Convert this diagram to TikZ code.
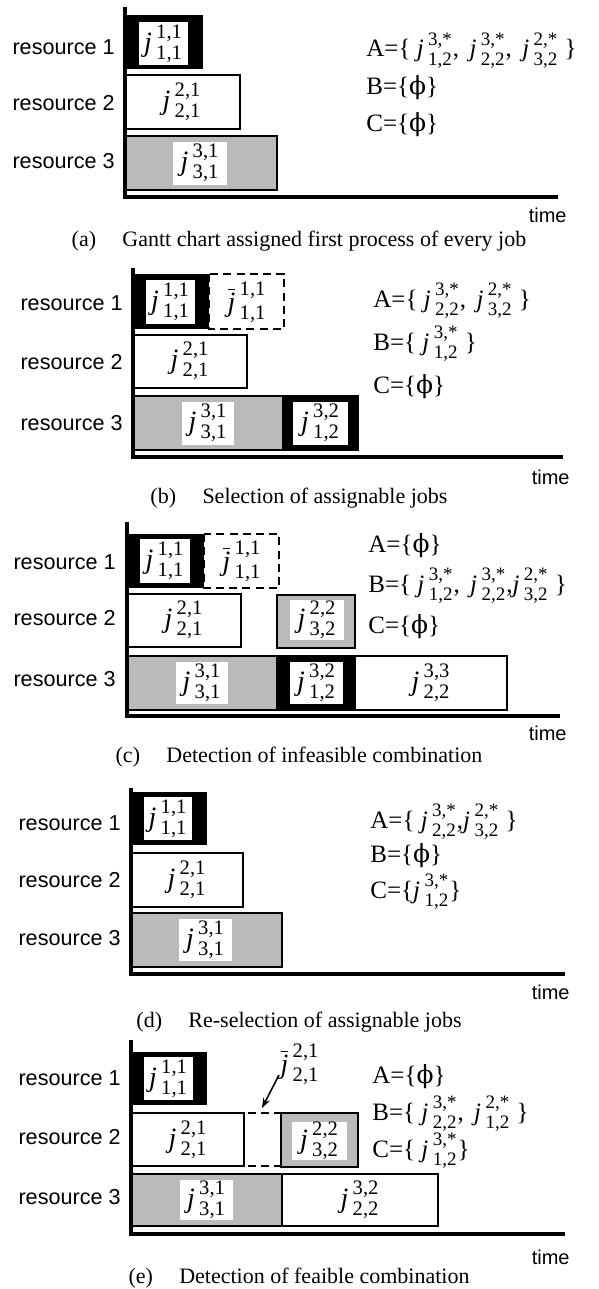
\documentclass[tikz,border=0pt]{standalone}
\usepackage{amsmath}
\usepackage{fontspec}
\setmainfont{Liberation Serif}
\newfontfamily\arialf{Liberation Sans}
\newfontfamily\dvs{DejaVu Serif}
\usetikzlibrary{arrows.meta}
\DeclareMathSizes{12.5}{12.5}{9.5}{7}
\DeclareMathSizes{14}{14}{10.3}{7}
\newcommand{\J}[2]{\ensuremath{\text{\itshape j}^{\kern2.2pt\text{#1}}_{\kern2.2pt\text{#2}}}}
\newcommand{\JB}[2]{\ensuremath{\overline{\text{\itshape j}}^{\kern2.2pt\text{#1}}_{\kern2.2pt\text{#2}}}}
\newcommand{\ph}{{\dvs ϕ}}
\tikzset{
 res/.style={font=\arialf\fontsize{10.8}{12}\selectfont, anchor=east, inner sep=0pt},
 tm/.style={font=\arialf\fontsize{10}{12}\selectfont, anchor=east, inner sep=0pt},
 captxt/.style={font=\fontsize{11}{13}\selectfont, inner sep=0pt},
 setlbl/.style={font=\fontsize{12.5}{14}\selectfont, anchor=base west, inner sep=0pt},
 jl/.style={font=\fontsize{14}{16}\selectfont, inner sep=0pt},
 axl/.style={line width=1.6pt},
 wbar/.style={draw=black, fill=white, line width=1.3pt},
 gbar/.style={draw=black, fill=black!27, line width=1.3pt},
 bbar/.style={fill=black},
 inw/.style={fill=white},
 dbox/.style={draw=black, dash pattern=on 4pt off 2.6pt, line width=1.3pt},
 arr/.style={-{Stealth[length=5pt,width=3.6pt]}, line width=0.8pt}
}
\begin{document}
\begin{tikzpicture}[x=0.5pt,y=-0.5pt]
\fill[white] (0,0) rectangle (599,1289);
\useasboundingbox (0,0) rectangle (599,1289);

% ---------------- (a)
\fill[bbar] (125,15) rectangle (203,69);
\fill[inw] (139,22) rectangle (188,65);
\node[jl] (aj1) at (163.5,43.5) {\J{1,1}{1,1}};
\draw[wbar] (125,75) rectangle (240,129);
\node[jl] (aj2) at (182,102) {\J{2,1}{2,1}};
\draw[gbar] (125,136) rectangle (277,190);
\fill[inw] (173,142) rectangle (227,185);
\node[jl] (aj3) at (200,163) {\J{3,1}{3,1}};
\draw[axl] (125,7) -- (125,197) -- (558,197);
\node[res] (ar1) at (115,47) {resource 1};
\node[res] (ar2) at (115,103) {resource 2};
\node[res] (ar3) at (115,161) {resource 3};
\node[setlbl] (aA) at (366,57) {A=\{ \J{3,*}{1,2},\, \J{3,*}{2,2},\, \J{2,*}{3,2} \}};
\node[setlbl] (aB) at (366,95) {B=\{\ph\}};
\node[setlbl] (aC) at (366,132) {C=\{\ph\}};
\node[tm] (atime) at (567,215) {time};
\node[captxt] (acap) at (299,241) {(a)\hspace{1.2em}Gantt chart assigned first process of every job};

% ---------------- (b)
\fill[bbar] (133,274) rectangle (209,329);
\fill[inw] (146,280) rectangle (195,324);
\node[jl] (bj1) at (170.5,302) {\J{1,1}{1,1}};
\draw[dbox] (209,274) rectangle (284,329);
\node[jl] (bjb) at (247,302) {\JB{1,1}{1,1}};
\draw[wbar] (133,335) rectangle (247,388);
\node[jl] (bj2) at (190,361) {\J{2,1}{2,1}};
\draw[gbar] (133,396) rectangle (283,450);
\fill[inw] (182,402) rectangle (234,445);
\node[jl] (bj3) at (208,423) {\J{3,1}{3,1}};
\fill[bbar] (283,395) rectangle (359,451);
\fill[inw] (293,402) rectangle (348,445);
\node[jl] (bj4) at (320.5,423) {\J{3,2}{1,2}};
\draw[axl] (133,268) -- (133,457) -- (563,457);
\node[res] (br1) at (123,303) {resource 1};
\node[res] (br2) at (123,362) {resource 2};
\node[res] (br3) at (123,423) {resource 3};
\node[setlbl] (bA) at (373,307) {A=\{ \J{3,*}{2,2},\, \J{2,*}{3,2} \}};
\node[setlbl] (bB) at (373,350) {B=\{ \J{3,*}{1,2} \}};
\node[setlbl] (bC) at (373,393) {C=\{\ph\}};
\node[tm] (btime) at (570,477) {time};
\node[captxt] (bcap) at (299,498) {(b)\hspace{1.2em}Selection of assignable jobs};

% ---------------- (c)
\fill[bbar] (127,534) rectangle (204,588);
\fill[inw] (140,539) rectangle (190,583);
\node[jl] (cj1) at (165,561) {\J{1,1}{1,1}};
\draw[dbox] (204,534) rectangle (279,588);
\node[jl] (cjb) at (242,561) {\JB{1,1}{1,1}};
\draw[wbar] (128,594) rectangle (241,647);
\node[jl] (cj2) at (184,620) {\J{2,1}{2,1}};
\draw[gbar] (277,595) rectangle (355,648);
\fill[inw] (290,600) rectangle (344,640);
\node[jl] (cj5) at (317,620) {\J{2,2}{3,2}};
\draw[gbar] (128,656) rectangle (277,710);
\fill[inw] (176,662) rectangle (228,704);
\node[jl] (cj3) at (202,683) {\J{3,1}{3,1}};
\fill[bbar] (277,655) rectangle (355,711);
\fill[inw] (290,662) rectangle (343,704);
\node[jl] (cj4) at (316.5,683) {\J{3,2}{1,2}};
\draw[wbar] (355,656) rectangle (507,710);
\node[jl] (cj6) at (431,683) {\J{3,3}{2,2}};
\draw[axl] (127,522) -- (127,716) -- (560,716);
\node[res] (cr1) at (116,562) {resource 1};
\node[res] (cr2) at (116,618) {resource 2};
\node[res] (cr3) at (116,679) {resource 3};
\node[setlbl] (cA) at (368,552) {A=\{\ph\}};
\node[setlbl] (cB) at (368,592) {B=\{ \J{3,*}{1,2},\, \J{3,*}{2,2},\J{2,*}{3,2} \}};
\node[setlbl] (cC) at (368,633) {C=\{\ph\}};
\node[tm] (ctime) at (567,733) {time};
\node[captxt] (ccap) at (299,757) {(c)\hspace{1.2em}Detection of infeasible combination};

% ---------------- (d)
\fill[bbar] (131,792) rectangle (207,845);
\fill[inw] (144,797) rectangle (192,840);
\node[jl] (dj1) at (168,818.5) {\J{1,1}{1,1}};
\draw[wbar] (131,853) rectangle (243,907);
\node[jl] (dj2) at (187,880) {\J{2,1}{2,1}};
\draw[gbar] (131,913) rectangle (282,967);
\fill[inw] (179,919) rectangle (232,961);
\node[jl] (dj3) at (205.5,940) {\J{3,1}{3,1}};
\draw[axl] (131,788) -- (131,974) -- (565,974);
\node[res] (dr1) at (121,823) {resource 1};
\node[res] (dr2) at (121,880) {resource 2};
\node[res] (dr3) at (121,938) {resource 3};
\node[setlbl] (dA) at (370,828) {A=\{ \J{3,*}{2,2},\J{2,*}{3,2} \}};
\node[setlbl] (dB) at (370,862) {B=\{\ph\}};
\node[setlbl] (dC) at (370,898) {C=\{\J{3,*}{1,2}\}};
\node[tm] (dtime) at (570,992) {time};
\node[captxt] (dcap) at (299,1022) {(d)\hspace{1.2em}Re-selection of assignable jobs};

% ---------------- (e)
\fill[bbar] (131,1052) rectangle (207,1105);
\fill[inw] (144,1057) rectangle (193,1100);
\node[jl] (ej1) at (168.5,1078.5) {\J{1,1}{1,1}};
\draw[wbar] (132,1113) rectangle (244,1166);
\node[jl] (ej2) at (188,1140) {\J{2,1}{2,1}};
\draw[dbox] (248,1113) -- (280,1113);
\draw[dbox] (248,1166) -- (280,1166);
\draw[gbar] (281,1113) rectangle (358,1167);
\fill[inw] (292,1122) rectangle (347,1160);
\node[jl] (ej5) at (319.5,1141) {\J{2,2}{3,2}};
\draw[gbar] (132,1174) rectangle (282,1226);
\fill[inw] (180,1180) rectangle (233,1220);
\node[jl] (ej3) at (206.5,1200) {\J{3,1}{3,1}};
\draw[wbar] (282,1174) rectangle (438,1226);
\node[jl] (ej6) at (360,1200) {\J{3,2}{2,2}};
\node[jl] (ejb) at (300,1064) {\JB{2,1}{2,1}};
\coordinate (etail) at (279,1075);
\coordinate (etip) at (262,1108);
\draw[arr] (etail) -- (etip);
\draw[axl] (131,1040) -- (131,1234) -- (565,1234);
\node[res] (er1) at (121,1078) {resource 1};
\node[res] (er2) at (121,1137) {resource 2};
\node[res] (er3) at (121,1197) {resource 3};
\node[setlbl] (eA) at (372,1083) {A=\{\ph\}};
\node[setlbl] (eB) at (372,1120) {B=\{ \J{3,*}{2,2},\, \J{2,*}{1,2} \}};
\node[setlbl] (eC) at (372,1157) {C=\{ \J{3,*}{1,2}\}};
\node[tm] (etime) at (570,1257) {time};
\node[captxt] (ecap) at (299,1278) {(e)\hspace{1.2em}Detection of feaible combination};
\end{tikzpicture}
\end{document}
